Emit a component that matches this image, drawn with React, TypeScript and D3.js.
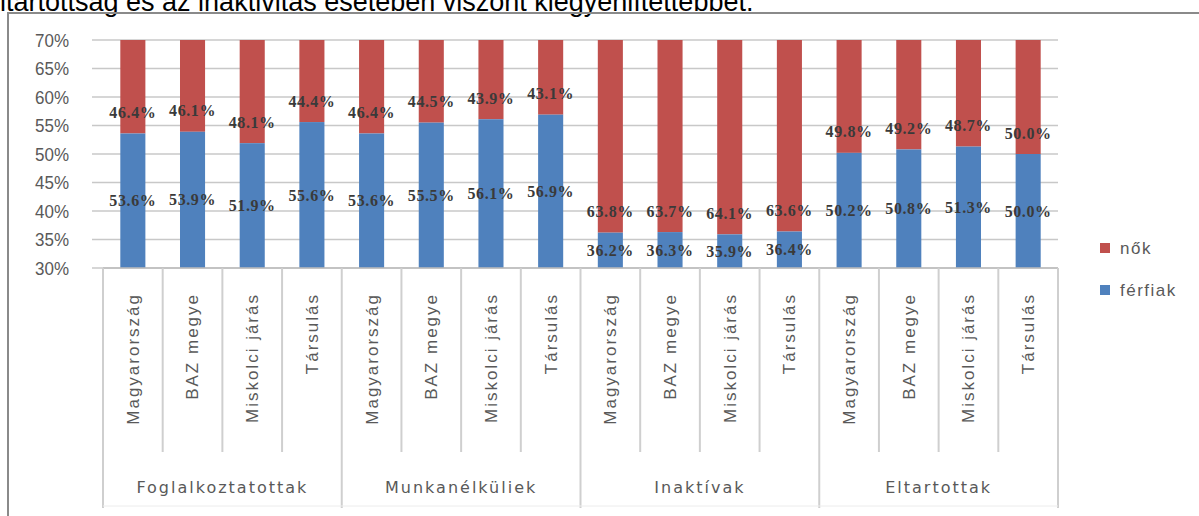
import React from "react";
import * as d3 from "d3";

const groups = ["Foglalkoztatottak", "Munkanélküliek", "Inaktívak", "Eltartottak"];
const regions = ["Magyarország", "BAZ megye", "Miskolci járás", "Társulás"];
const menValues = [
  53.6, 53.9, 51.9, 55.6,
  53.6, 55.5, 56.1, 56.9,
  36.2, 36.3, 35.9, 36.4,
  50.2, 50.8, 51.3, 50.0,
];
const womenValues = [
  46.4, 46.1, 48.1, 44.4,
  46.4, 44.5, 43.9, 43.1,
  63.8, 63.7, 64.1, 63.6,
  49.8, 49.2, 48.7, 50.0,
];
const yTicks = [30, 35, 40, 45, 50, 55, 60, 65, 70];
const seriesNames = ["nők", "férfiak"];
const headerText = "ltartottság és az inaktivitás esetében viszont kiegyenlítettebbet.";

const W = 1199;
const H = 516;
const plotL = 103;
const plotR = 1058;
const plotT = 40;
const plotB = 268;
const BLUE = "#4F81BD";
const RED = "#C0504D";
const AXIS_TEXT = "#595959";
const FONT = "'Liberation Sans', Arial, sans-serif";
const WIDE_FONT = "'DejaVu Sans', Verdana, sans-serif";

export default function App() {
  const keys = groups.flatMap((g) => regions.map((r) => `${g}|${r}`));
  const x = d3.scaleBand<string>().domain(keys).range([plotL, plotR]).paddingInner(0).paddingOuter(0);
  const y = d3.scaleLinear().domain([30, 70]).range([plotB, plotT]);
  const bw = x.bandwidth();
  const barW = bw * 0.42;
  const fmt = (v: number) => d3.format(".1f")(v) + "%";

  return (
    <div style={{ position: "absolute", left: 0, top: 0 }}>
      <svg width={W} height={H} style={{ display: "block", background: "#fff" }}>
        <text x={0} y={11} fontFamily={FONT} fontSize={27} fill="#000">
          {headerText}
        </text>
        <rect x={8} y={13} width={W} height={H} fill="none" stroke="#8a8a8a" strokeWidth={2} />

        {/* gridlines */}
        {yTicks.map((t) => (
          <line key={"g" + t} x1={92} x2={plotR} y1={y(t)} y2={y(t)} stroke="#c8c8c8" strokeWidth={1.5} />
        ))}
        {yTicks.map((t) => (
          <text
            key={"t" + t}
            x={69}
            y={y(t)}
            dy="0.36em"
            textAnchor="end"
            fontFamily={FONT}
            fontSize={17}
            fill={AXIS_TEXT}
            transform={`translate(69 ${y(t)}) scale(1 1.12) translate(-69 ${-y(t)})`}
          >
            {t}%
          </text>
        ))}

        {/* bars */}
        {keys.map((k, i) => {
          const cx = (x(k) as number) + bw / 2;
          const m = menValues[i];
          return (
            <g key={"b" + k}>
              <rect x={cx - barW / 2} y={y(70)} width={barW} height={y(m) - y(70)} fill={RED} />
              <rect x={cx - barW / 2} y={y(m)} width={barW} height={y(30) - y(m)} fill={BLUE} />
            </g>
          );
        })}

        {/* data labels */}
        {keys.map((k, i) => {
          const cx = (x(k) as number) + bw / 2;
          const m = menValues[i];
          const w = womenValues[i];
          return (
            <g
              key={"l" + k}
              fontFamily="'Liberation Serif', 'DejaVu Serif', serif"
              fontSize={16}
              fontWeight="bold"
              letterSpacing={0.6}
              fill="#3a3a3a"
              textAnchor="middle"
            >
              <text x={cx} y={(y(30) + y(m)) / 2} dy="0.35em">{fmt(m)}</text>
              <text x={cx} y={y(m) - 21} dy="0.35em">{fmt(w)}</text>
            </g>
          );
        })}

        {/* category axis */}
        <line x1={plotL} x2={plotR} y1={plotB} y2={plotB} stroke="#bdbdbd" strokeWidth={1.5} />
        {d3.range(keys.length + 1).map((i) => {
          const xx = plotL + i * bw;
          const isGroup = i % regions.length === 0;
          return (
            <line key={"s" + i} x1={xx} x2={xx} y1={plotB} y2={isGroup ? 508 : 452} stroke="#cfcfcf" strokeWidth={2} />
          );
        })}
        <line x1={plotL} x2={plotR} y1={506} y2={506} stroke="#ececec" strokeWidth={1} />
        {keys.map((k) => {
          const cx = (x(k) as number) + bw / 2;
          const label = k.split("|")[1];
          return (
            <text
              key={"c" + k}
              transform={`translate(${cx} 293) rotate(-90)`}
              textAnchor="end"
              dy="0.35em"
              fontFamily={FONT}
              fontSize={17}
              letterSpacing={2}
              fill={AXIS_TEXT}
            >
              {label}
            </text>
          );
        })}
        {groups.map((g, gi) => {
          const cx = plotL + (gi * regions.length + regions.length / 2) * bw;
          return (
            <text
              key={"grp" + g}
              x={cx}
              y={487}
              dy="0.35em"
              textAnchor="middle"
              fontFamily={WIDE_FONT}
              fontSize={16}
              letterSpacing={2}
              fill={AXIS_TEXT}
            >
              {g}
            </text>
          );
        })}

        {/* legend */}
        {seriesNames.map((s, i) => {
          const ly = 248 + i * 42;
          return (
            <g key={"lg" + s}>
              <rect x={1100} y={ly - 5} width={10} height={10} fill={i === 0 ? RED : BLUE} />
              <text x={1120} y={ly} dy="0.35em" fontFamily={FONT} fontSize={17} letterSpacing={1.5} fill={AXIS_TEXT}>
                {s}
              </text>
            </g>
          );
        })}
      </svg>
    </div>
  );
}
